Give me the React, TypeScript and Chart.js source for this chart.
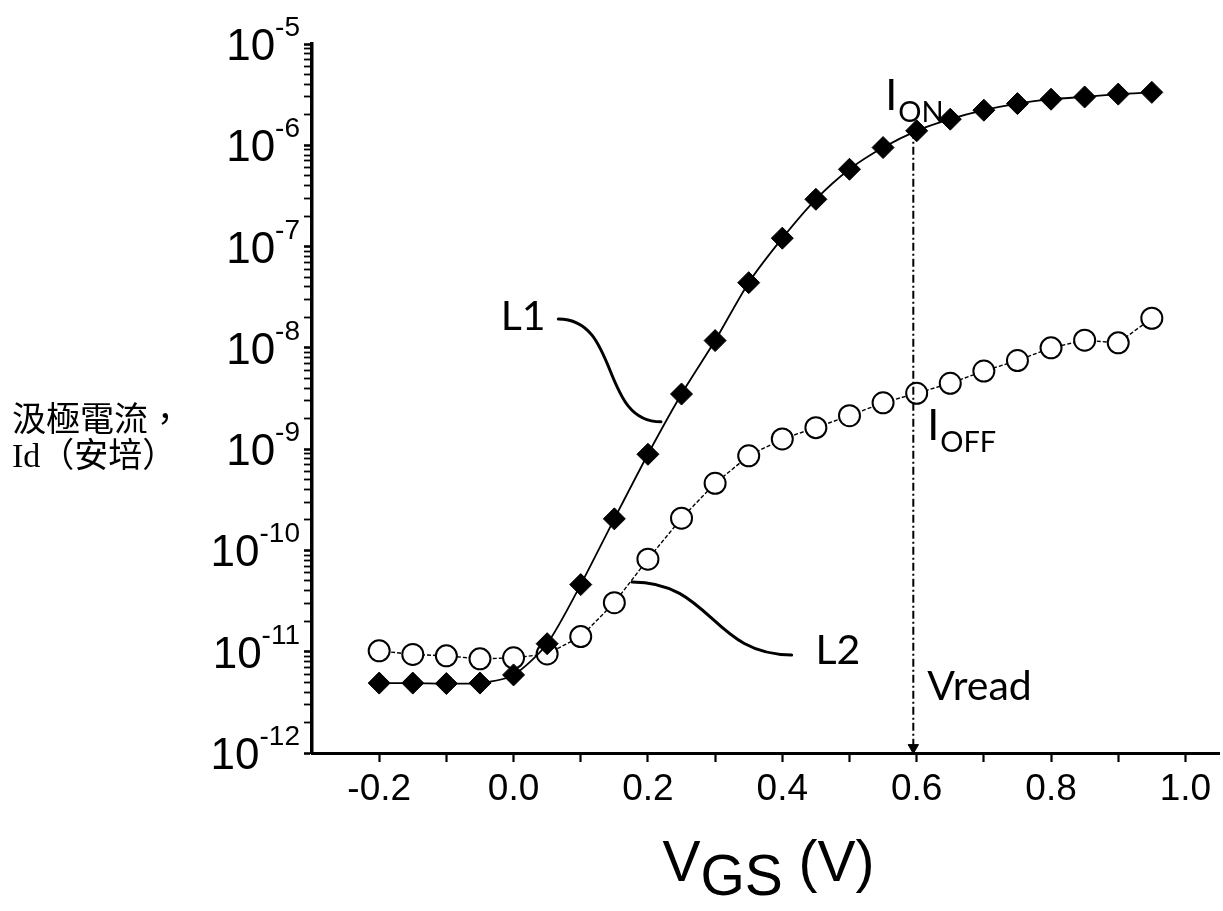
import React, { useEffect, useRef } from 'react';
import { Chart, registerables } from 'chart.js';

Chart.register(...registerables);

// ---- data ----
const vgs = [-0.2, -0.15, -0.1, -0.05, 0.0, 0.05, 0.1, 0.15, 0.2, 0.25, 0.3, 0.35, 0.4, 0.45, 0.5, 0.55, 0.6, 0.65, 0.7, 0.75, 0.8, 0.85, 0.9, 0.95];
const idL1 = [4.9e-12, 4.9e-12, 4.85e-12, 4.9e-12, 5.9e-12, 1.2e-11, 4.6e-11, 2.05e-10, 8.9e-10, 3.5e-9, 1.18e-8, 4.4e-8, 1.21e-7, 2.93e-7, 5.8e-7, 9.5e-7, 1.39e-6, 1.81e-6, 2.22e-6, 2.58e-6, 2.85e-6, 3.0e-6, 3.2e-6, 3.33e-6];
const idL2 = [1.02e-11, 9.4e-12, 9.1e-12, 8.5e-12, 8.7e-12, 9.5e-12, 1.41e-11, 3.05e-11, 8.2e-11, 2.08e-10, 4.6e-10, 8.6e-10, 1.26e-9, 1.63e-9, 2.14e-9, 2.87e-9, 3.56e-9, 4.47e-9, 5.9e-9, 7.5e-9, 1.0e-8, 1.19e-8, 1.12e-8, 1.96e-8];

const xTickValues = [-0.2, -0.1, 0.0, 0.1, 0.2, 0.3, 0.4, 0.5, 0.6, 0.7, 0.8, 0.9, 1.0];
const xTickLabels = ['-0.2', '0.0', '0.2', '0.4', '0.6', '0.8', '1.0'];
const yDecadeExponents = [-12, -11, -10, -9, -8, -7, -6, -5];
const yMinorMultipliers = [2, 3, 4, 5, 6, 7, 8, 9];

const vRead = 0.595;
const vReadTop = 1.39e-6;
const vReadArrowAt = 1.13e-12;

// annotation anchors in data units
const leaderL1 = [[0.0666, 1.93e-8], [0.1586, 1.93e-8], [0.129, 1.86e-9], [0.2194, 1.86e-9]];
const leaderL2 = [[0.1764, 4.89e-11], [0.2952, 4.89e-11], [0.2952, 9.29e-12], [0.4139, 9.29e-12]];
const labelL1 = { text: 'L1', x: -0.019, y: 1.5e-8 };
const labelL2 = { text: 'L2', x: 0.4495, y: 7.59e-12 };
const labelION = { main: 'I', sub: 'ON', x: 0.5533, y: 2.23e-6 };
const labelIOFF = { main: 'I', sub: 'OFF', x: 0.6157, y: 1.23e-9 };
const labelVread = { text: 'Vread', x: 0.6157, y: 3.34e-12 };

const yTitleLines = ['汲極電流，', 'Id（安培）'];
const xTitle = { main: 'V', sub: 'GS', rest: ' (V)' };

const ANNOT_FONT = 'Lato, "Open Sans", sans-serif';
const AXIS_FONT = '"Liberation Sans", Arial, sans-serif';

const decorPlugin = {
  id: 'decor',
  afterDraw(chart: any) {
    const ctx = chart.ctx as CanvasRenderingContext2D;
    const xs = chart.scales.x;
    const ys = chart.scales.y;
    const area = chart.chartArea;
    const px = (v: number) => xs.getPixelForValue(v);
    const py = (v: number) => ys.getPixelForValue(v);
    ctx.save();
    ctx.fillStyle = '#000';
    ctx.strokeStyle = '#000';

    // y tick labels 10^n
    ctx.textBaseline = 'alphabetic';
    ctx.textAlign = 'left';
    for (const e of yDecadeExponents) {
      const y = py(Number(`1e${e}`));
      const exp = String(e);
      ctx.font = `28px ${AXIS_FONT}`;
      const we = ctx.measureText(exp).width;
      ctx.font = `44px ${AXIS_FONT}`;
      const wb = ctx.measureText('10').width;
      const right = area.left - 12;
      ctx.fillText('10', right - we - wb, y + 16);
      ctx.font = `28px ${AXIS_FONT}`;
      ctx.fillText(exp, right - we, y - 8);
    }

    // x title with subscript
    ctx.font = `57px ${AXIS_FONT}`;
    const wV = ctx.measureText(xTitle.main).width;
    const wGS = ctx.measureText(xTitle.sub).width;
    const wR = ctx.measureText(xTitle.rest).width;
    const cx = (area.left + area.right) / 2 + 3;
    const sx = cx - (wV + wGS + wR) / 2;
    const base = area.bottom + 128;
    ctx.fillText(xTitle.main, sx, base);
    ctx.fillText(xTitle.sub, sx + wV, base + 14);
    ctx.fillText(xTitle.rest, sx + wV + wGS, base);

    // y title (two lines)
    ctx.font = `34px "Liberation Serif", "Noto Sans CJK TC", serif`;
    ctx.fillText(yTitleLines[0], 12, 431);
    ctx.fillText(yTitleLines[1], 12, 467);

    // leader curves
    ctx.lineWidth = 3;
    ctx.lineCap = 'round';
    for (const L of [leaderL1, leaderL2]) {
      ctx.beginPath();
      ctx.moveTo(px(L[0][0]), py(L[0][1]));
      ctx.bezierCurveTo(px(L[1][0]), py(L[1][1]), px(L[2][0]), py(L[2][1]), px(L[3][0]), py(L[3][1]));
      ctx.stroke();
    }

    // annotation texts
    ctx.font = `41px ${ANNOT_FONT}`;
    ctx.fillText(labelL1.text, px(labelL1.x), py(labelL1.y));
    ctx.fillText(labelL2.text, px(labelL2.x), py(labelL2.y));
    ctx.fillText(labelVread.text, px(labelVread.x), py(labelVread.y));

    for (const lab of [labelION, labelIOFF]) {
      ctx.font = `43px ${ANNOT_FONT}`;
      const x0 = px(lab.x);
      const y0 = py(lab.y);
      ctx.fillText(lab.main, x0, y0);
      const wI = ctx.measureText(lab.main).width;
      ctx.font = `29px ${ANNOT_FONT}`;
      ctx.fillText(lab.sub, x0 + wI + 1, y0 + 12);
    }
    ctx.restore();
  },
};

export default function App() {
  const ref = useRef<HTMLCanvasElement | null>(null);
  useEffect(() => {
    if (!ref.current) return;
    const chart = new Chart(ref.current, {
      type: 'line',
      data: {
        datasets: [
          {
            label: 'Vread',
            data: [
              { x: vRead, y: vReadTop },
              { x: vRead, y: vReadArrowAt },
            ],
            borderColor: '#000',
            borderWidth: 2,
            borderDash: [8, 3, 2, 3],
            pointRadius: [0, 6],
            pointStyle: 'triangle',
            rotation: 180,
            pointBackgroundColor: '#000',
            pointBorderColor: '#000',
            pointBorderWidth: 1,
            fill: false,
            order: 0,
          },
          {
            label: 'L1',
            data: vgs.map((x, i) => ({ x, y: idL1[i] })),
            borderColor: '#000',
            borderWidth: 1.8,
            tension: 0.25,
            pointStyle: 'rectRot',
            pointRadius: 11,
            pointBackgroundColor: '#000',
            pointBorderColor: '#000',
            pointBorderWidth: 1,
            fill: false,
            order: 1,
          },
          {
            label: 'L2',
            data: vgs.map((x, i) => ({ x, y: idL2[i] })),
            borderColor: '#000',
            borderWidth: 1.4,
            borderDash: [4, 2],
            tension: 0,
            pointStyle: 'circle',
            pointRadius: 10.5,
            pointBackgroundColor: '#fff',
            pointBorderColor: '#000',
            pointBorderWidth: 2,
            fill: false,
            order: 2,
          },
        ],
      },
      options: {
        animation: false,
        responsive: false,
        maintainAspectRatio: false,
        events: [],
        layout: { autoPadding: false, padding: { top: 44, right: 4, left: 0, bottom: 0 } },
        plugins: {
          legend: { display: false },
          tooltip: { enabled: false },
          title: { display: false },
        },
        scales: {
          x: {
            type: 'linear',
            min: -0.3,
            max: 1.05,
            afterBuildTicks: (scale: any) => {
              scale.ticks = xTickValues.map((v) => ({ value: v }));
            },
            afterFit: (scale: any) => {
              scale.height = 158;
            },
            ticks: {
              autoSkip: false,
              maxRotation: 0,
              color: '#000',
              padding: 6,
              font: { family: AXIS_FONT, size: 37 },
              callback: (value: any) => {
                const lbl = xTickLabels.find((l) => Math.abs(parseFloat(l) - Number(value)) < 1e-6);
                return lbl ?? '';
              },
            },
            grid: {
              drawOnChartArea: false,
              drawTicks: true,
              tickLength: 9,
              tickColor: '#000',
              tickWidth: 2.2,
            },
            border: { display: true, color: '#000', width: 3 },
          },
          y: {
            type: 'logarithmic',
            min: 1e-12,
            max: 1e-5,
            afterBuildTicks: (scale: any) => {
              const t: any[] = [];
              for (const e of yDecadeExponents) {
                t.push({ value: Number(`1e${e}`), major: true });
                if (e < -5) {
                  for (const m of yMinorMultipliers) t.push({ value: Number(`${m}e${e}`), major: false });
                }
              }
              scale.ticks = t;
            },
            afterFit: (scale: any) => {
              scale.width = 312;
            },
            ticks: { display: false },
            grid: {
              drawOnChartArea: false,
              drawTicks: true,
              tickLength: 8,
              tickColor: '#000',
              tickWidth: (c: any) => (c.tick && c.tick.major ? 2.6 : 1.8),
            },
            border: { display: true, color: '#000', width: 3.5 },
          },
        },
      },
      plugins: [decorPlugin],
    } as any);
    return () => chart.destroy();
  }, []);

  return (
    <div style={{ position: 'fixed', left: 0, top: 0, width: 1223, height: 911, background: '#fff' }}>
      <canvas ref={ref} width={1223} height={911} style={{ display: 'block' }} />
    </div>
  );
}
